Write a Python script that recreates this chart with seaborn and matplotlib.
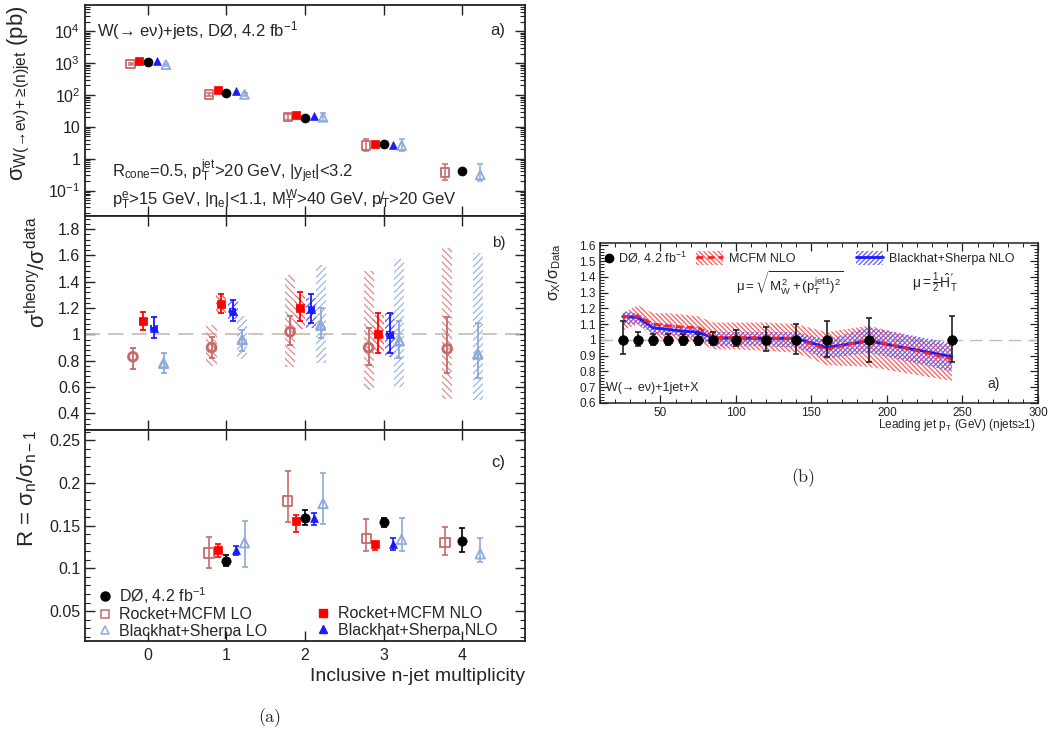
import numpy as np
import matplotlib
matplotlib.use("Agg")
import matplotlib.pyplot as plt
import seaborn as sns
from matplotlib.lines import Line2D
from matplotlib.patches import Patch
from matplotlib.ticker import FixedLocator, FixedFormatter, MultipleLocator, LogLocator, NullFormatter, NullLocator

# ---------------- data ----------------
n_jets = np.array([0, 1, 2, 3, 4])
n_nlo = np.array([0, 1, 2, 3])
n_ratio = np.array([1, 2, 3, 4])
n_ratio_nlo = np.array([1, 2, 3])

# panel a: cross sections (pb)
xs_data = np.array([1100, 118, 19.5, 2.9, 0.41])
xs_rocket_lo = np.array([930, 105, 20, 2.6, 0.37])
xs_rocket_lo_low = np.array([850, 95, 16, 1.8, 0.22])
xs_rocket_lo_high = np.array([1000, 115, 25, 4.3, 0.70])
xs_rocket_nlo = np.array([1200, 140, 23, 2.8])
xs_blackhat_nlo = np.array([1150, 130, 22, 2.7])
xs_blackhat_lo = np.array([900, 105, 20, 2.6, 0.31])
xs_blackhat_lo_low = np.array([820, 95, 15, 1.7, 0.20])
xs_blackhat_lo_high = np.array([980, 115, 27, 4.3, 0.68])

# panel b: theory / data
rb_rocket_lo = np.array([0.83, 0.90, 1.02, 0.90, 0.89])
rb_rocket_lo_low = np.array([0.74, 0.82, 0.92, 0.77, 0.71])
rb_rocket_lo_high = np.array([0.90, 0.98, 1.14, 1.05, 1.13])
rb_rocket_lo_band_low = np.array([np.nan, 0.76, 0.75, 0.58, 0.51])
rb_rocket_lo_band_high = np.array([np.nan, 1.07, 1.45, 1.48, 1.66])
rb_rocket_nlo = np.array([1.10, 1.23, 1.20, 1.00])
rb_rocket_nlo_low = np.array([1.03, 1.16, 1.10, 0.86])
rb_rocket_nlo_high = np.array([1.17, 1.31, 1.32, 1.16])
rb_rocket_nlo_band_low = np.array([np.nan, 1.16, 1.04, 0.86])
rb_rocket_nlo_band_high = np.array([np.nan, 1.31, 1.30, 1.15])
rb_blackhat_nlo = np.array([1.05, 1.18, 1.19, 1.00])
rb_blackhat_nlo_low = np.array([0.97, 1.10, 1.09, 0.86])
rb_blackhat_nlo_high = np.array([1.13, 1.26, 1.31, 1.16])
rb_blackhat_nlo_band_low = np.array([np.nan, 1.12, 1.05, 0.83])
rb_blackhat_nlo_band_high = np.array([np.nan, 1.25, 1.28, 1.16])
rb_blackhat_lo = np.array([0.78, 0.96, 1.07, 0.95, 0.85])
rb_blackhat_lo_low = np.array([0.71, 0.87, 0.97, 0.82, 0.67])
rb_blackhat_lo_high = np.array([0.86, 1.03, 1.20, 1.10, 1.09])
rb_blackhat_lo_band_low = np.array([np.nan, 0.81, 0.78, 0.60, 0.50])
rb_blackhat_lo_band_high = np.array([np.nan, 1.14, 1.53, 1.57, 1.62])

# panel c: R = sigma_n / sigma_n-1
R_data = np.array([0.109, 0.159, 0.154, 0.132])
R_data_low = np.array([0.103, 0.151, 0.149, 0.119])
R_data_high = np.array([0.116, 0.168, 0.159, 0.147])
R_rocket_lo = np.array([0.118, 0.179, 0.135, 0.130])
R_rocket_lo_low = np.array([0.101, 0.154, 0.120, 0.116])
R_rocket_lo_high = np.array([0.137, 0.214, 0.158, 0.148])
R_rocket_nlo = np.array([0.122, 0.156, 0.128])
R_rocket_nlo_low = np.array([0.113, 0.143, 0.122])
R_rocket_nlo_high = np.array([0.128, 0.163, 0.131])
R_blackhat_nlo = np.array([0.121, 0.159, 0.128])
R_blackhat_nlo_low = np.array([0.116, 0.151, 0.122])
R_blackhat_nlo_high = np.array([0.126, 0.165, 0.136])
R_blackhat_lo = np.array([0.130, 0.176, 0.134, 0.117])
R_blackhat_lo_low = np.array([0.102, 0.152, 0.120, 0.107])
R_blackhat_lo_high = np.array([0.156, 0.212, 0.159, 0.136])

# right panel: leading jet pT ratio
pt = np.array([25, 35, 45, 55, 65, 75, 85, 100, 120, 140, 160, 188, 243])
pt_data_low = np.array([0.91, 0.96, 0.97, 0.97, 0.97, 0.97, 0.97, 0.96, 0.93, 0.91, 0.89, 0.86, 0.86])
pt_data_high = np.array([1.12, 1.05, 1.04, 1.04, 1.04, 1.04, 1.05, 1.06, 1.08, 1.10, 1.12, 1.14, 1.15])
pt_mcfm = np.array([1.145, 1.152, 1.10, 1.09, 1.08, 1.08, 1.015, 1.015, 1.013, 1.008, 0.94, 1.00, 0.88])
pt_mcfm_low = np.array([1.06, 1.10, 1.02, 1.00, 0.99, 0.99, 0.94, 0.94, 0.93, 0.92, 0.84, 0.83, 0.74])
pt_mcfm_high = np.array([1.17, 1.22, 1.17, 1.17, 1.16, 1.15, 1.11, 1.11, 1.11, 1.10, 1.05, 1.09, 0.96])
pt_bh = np.array([1.148, 1.143, 1.077, 1.067, 1.055, 1.05, 1.012, 1.012, 1.01, 1.01, 0.952, 0.994, 0.894])
pt_bh_low = np.array([1.10, 1.10, 1.04, 1.03, 1.02, 1.01, 0.96, 0.96, 0.96, 0.95, 0.88, 0.92, 0.80])
pt_bh_high = np.array([1.18, 1.17, 1.11, 1.10, 1.09, 1.08, 1.05, 1.05, 1.05, 1.05, 1.00, 1.08, 0.98])

log_ticks = [0.1, 1, 10, 100, 1000, 10000]
log_tick_labels = [r"$10^{-1}$", "1", "10", r"$10^{2}$", r"$10^{3}$", r"$10^{4}$"]

# ---------------- style ----------------
sns.set_theme(style="ticks")
plt.rcParams["font.family"] = ["Liberation Sans", "DejaVu Sans"]
plt.rcParams["mathtext.fontset"] = "custom"
plt.rcParams["mathtext.rm"] = "Liberation Sans"
plt.rcParams["mathtext.it"] = "Liberation Sans"
plt.rcParams["mathtext.bf"] = "Liberation Sans:bold"
plt.rcParams["hatch.linewidth"] = 0.9
plt.rcParams["axes.unicode_minus"] = False

C_DATA = "black"
C_RLO = "#c86a6a"
C_RNLO = "#ff0000"
C_BNLO = "#1a1aff"
C_BLO = "#8ea9dc"
B_RLO = "#e08c8c"
B_RNLO = "#ff5a5a"
B_BNLO = "#5a5aff"
B_BLO = "#9fb7e6"
GRAY_DASH = "#c9b8b0"
HATCH_R = "\\\\\\\\\\"
HATCH_B = "/////"
HATCH_R2 = "\\\\\\\\\\\\\\"
HATCH_B2 = "///////"

fig = plt.figure(figsize=(10.53, 7.37), dpi=100)
W, H = 1053.0, 737.0


def axes_px(x0, y0, x1, y1):
    return fig.add_axes([x0 / W, 1 - y1 / H, (x1 - x0) / W, (y1 - y0) / H])


axA = axes_px(85, 5, 525, 216)
axB = axes_px(85, 216, 525, 430)
axC = axes_px(85, 430, 525, 641)
axR = axes_px(600, 243, 1038, 403)


def pts(ax, x, y, marker, color, s, filled=True, lw=1.3, z=5):
    if filled:
        sns.scatterplot(x=x, y=y, ax=ax, marker=marker, s=s, color=color,
                        edgecolor=color, linewidth=0.5, zorder=z, legend=False)
    else:
        sns.scatterplot(x=x, y=y, ax=ax, marker=marker, s=s, facecolor="none",
                        edgecolor=color, linewidth=lw, zorder=z, legend=False)


def eb(ax, x, y, lo, hi, color, lw=1.2, cap=2.5, xerr=None, z=4):
    ax.errorbar(x, y, yerr=[y - lo, hi - y], xerr=xerr, fmt="none", ecolor=color,
                elinewidth=lw, capsize=cap, capthick=lw, zorder=z)


def style_left(ax):
    for sp in ax.spines.values():
        sp.set_linewidth(1.3)
        sp.set_color("#222222")
    ax.set_xlim(-0.8, 4.8)
    ax.xaxis.set_major_locator(FixedLocator(list(n_jets)))
    ax.xaxis.set_minor_locator(NullLocator())
    ax.tick_params(which="both", direction="in", top=True, right=True, labelsize=11.5,
                   colors="#222222")
    ax.tick_params(which="major", length=7, width=1.0)
    ax.tick_params(which="minor", length=3.5, width=0.8)


# ---------------- panel a ----------------
off_rlo, off_rnlo, off_bnlo, off_blo = -0.22, -0.11, 0.12, 0.23
eb(axA, n_jets + off_rlo, xs_rocket_lo, xs_rocket_lo_low, xs_rocket_lo_high, C_RLO, lw=1.1, cap=2.5)
eb(axA, n_jets + off_blo, xs_blackhat_lo, xs_blackhat_lo_low, xs_blackhat_lo_high, C_BLO, lw=1.1, cap=2.5)
pts(axA, n_jets + off_rlo, xs_rocket_lo, "s", C_RLO, 36, filled=False)
pts(axA, n_nlo + off_rnlo, xs_rocket_nlo, "s", C_RNLO, 34)
pts(axA, n_jets, xs_data, "o", C_DATA, 42)
pts(axA, n_nlo + off_bnlo, xs_blackhat_nlo, "^", C_BNLO, 32)
pts(axA, n_jets + off_blo, xs_blackhat_lo, "^", C_BLO, 40, filled=False)
axA.set_yscale("log")
axA.set_ylim(10 ** -1.8, 10 ** 4.83)
style_left(axA)
axA.yaxis.set_major_locator(FixedLocator(log_ticks))
axA.yaxis.set_major_formatter(FixedFormatter(log_tick_labels))
axA.yaxis.set_minor_locator(LogLocator(base=10, subs=np.arange(2, 10), numticks=20))
axA.yaxis.set_minor_formatter(NullFormatter())
axA.tick_params(axis="x", labelbottom=False)
axA.set_xlabel("")
axA.set_ylabel(r"$\sigma_{W(\!\rightarrow\! e\nu)\!+\!\geq\!(n)jet}$ (pb)", fontsize=16, loc="top")
axA.yaxis.set_label_coords(-0.12, 1.0)
axA.text(0.027, 0.88, "W(→ eν)+jets, DØ, 4.2 fb$^{-1}$",
         transform=axA.transAxes, fontsize=12, va="center", ha="left")
axA.text(0.955, 0.88, "a)", transform=axA.transAxes, fontsize=12, va="center", ha="right")
axA.text(0.061, 0.208, r"R$_{cone}$=0.5, p$_{T}^{jet}$>20 GeV, |y$_{jet}$|<3.2",
         transform=axA.transAxes, fontsize=12, va="center", ha="left")
axA.text(0.061, 0.076,
         r"p$_{T}^{e}$>15 GeV, |$\eta_{e}$|<1.1, M$_{T}^{W}$>40 GeV, p" + "\u0338" + r"$_{T}$>20 GeV",
         transform=axA.transAxes, fontsize=12, va="center", ha="left")

# ---------------- panel b ----------------
o_rlo, o_rnlo, o_bnlo, o_blo = -0.19, -0.065, 0.08, 0.20
bw = 0.13
axB.axhline(1.0, color=GRAY_DASH, lw=1.2, ls=(0, (9, 5)), zorder=1)
axB.bar(n_jets + o_rlo, rb_rocket_lo_band_high - rb_rocket_lo_band_low, bottom=rb_rocket_lo_band_low,
        width=bw, fill=False, hatch=HATCH_R, edgecolor=B_RLO, linewidth=0, zorder=2)
axB.bar(n_nlo + o_rnlo, rb_rocket_nlo_band_high - rb_rocket_nlo_band_low, bottom=rb_rocket_nlo_band_low,
        width=bw, fill=False, hatch=HATCH_R, edgecolor=B_RNLO, linewidth=0, zorder=2)
axB.bar(n_nlo + o_bnlo, rb_blackhat_nlo_band_high - rb_blackhat_nlo_band_low, bottom=rb_blackhat_nlo_band_low,
        width=bw, fill=False, hatch=HATCH_B, edgecolor=B_BNLO, linewidth=0, zorder=2)
axB.bar(n_jets + o_blo, rb_blackhat_lo_band_high - rb_blackhat_lo_band_low, bottom=rb_blackhat_lo_band_low,
        width=bw, fill=False, hatch=HATCH_B, edgecolor=B_BLO, linewidth=0, zorder=2)
eb(axB, n_jets + o_rlo, rb_rocket_lo, rb_rocket_lo_low, rb_rocket_lo_high, C_RLO, lw=1.3, cap=2.5)
eb(axB, n_nlo + o_rnlo, rb_rocket_nlo, rb_rocket_nlo_low, rb_rocket_nlo_high, C_RNLO, lw=1.3, cap=2.5, xerr=0.035)
eb(axB, n_nlo + o_bnlo, rb_blackhat_nlo, rb_blackhat_nlo_low, rb_blackhat_nlo_high, C_BNLO, lw=1.3, cap=2.5, xerr=0.035)
eb(axB, n_jets + o_blo, rb_blackhat_lo, rb_blackhat_lo_low, rb_blackhat_lo_high, C_BLO, lw=1.3, cap=2.5)
pts(axB, n_jets + o_rlo, rb_rocket_lo, "o", C_RLO, 40, filled=False, lw=2.0)
pts(axB, n_nlo + o_rnlo, rb_rocket_nlo, "s", C_RNLO, 36)
pts(axB, n_nlo + o_bnlo, rb_blackhat_nlo, "^", C_BNLO, 34)
pts(axB, n_jets + o_blo, rb_blackhat_lo, "^", C_BLO, 40, filled=False, lw=1.8)
axB.set_ylim(0.273, 1.90)
style_left(axB)
axB.yaxis.set_major_locator(FixedLocator([0.4, 0.6, 0.8, 1.0, 1.2, 1.4, 1.6, 1.8]))
axB.yaxis.set_major_formatter(FixedFormatter(["0.4", "0.6", "0.8", "1", "1.2", "1.4", "1.6", "1.8"]))
axB.yaxis.set_minor_locator(MultipleLocator(0.04))
axB.tick_params(axis="x", labelbottom=False)
axB.set_xlabel("")
axB.set_ylabel(r"$\sigma^{theory}/\sigma^{data}$", fontsize=16, loc="top")
axB.yaxis.set_label_coords(-0.08, 1.0)
axB.text(0.955, 0.874, "b)", transform=axB.transAxes, fontsize=11, va="center", ha="right")

# ---------------- panel c ----------------
eb(axC, n_ratio + off_rlo, R_rocket_lo, R_rocket_lo_low, R_rocket_lo_high, C_RLO, lw=1.2, cap=2.5)
eb(axC, n_ratio_nlo + off_rnlo, R_rocket_nlo, R_rocket_nlo_low, R_rocket_nlo_high, C_RNLO, lw=1.2, cap=2.5)
eb(axC, n_ratio, R_data, R_data_low, R_data_high, C_DATA, lw=1.2, cap=2.5)
eb(axC, n_ratio_nlo + off_bnlo, R_blackhat_nlo, R_blackhat_nlo_low, R_blackhat_nlo_high, C_BNLO, lw=1.2, cap=2.5)
eb(axC, n_ratio + off_blo, R_blackhat_lo, R_blackhat_lo_low, R_blackhat_lo_high, C_BLO, lw=1.2, cap=2.5)
pts(axC, n_ratio + off_rlo, R_rocket_lo, "s", C_RLO, 45, filled=False)
pts(axC, n_ratio_nlo + off_rnlo, R_rocket_nlo, "s", C_RNLO, 36)
pts(axC, n_ratio, R_data, "o", C_DATA, 45)
pts(axC, n_ratio_nlo + off_bnlo, R_blackhat_nlo, "^", C_BNLO, 32)
pts(axC, n_ratio + off_blo, R_blackhat_lo, "^", C_BLO, 45, filled=False)
axC.set_ylim(0.015, 0.262)
style_left(axC)
axC.yaxis.set_major_locator(FixedLocator([0.05, 0.1, 0.15, 0.2, 0.25]))
axC.yaxis.set_major_formatter(FixedFormatter(["0.05", "0.1", "0.15", "0.2", "0.25"]))
axC.yaxis.set_minor_locator(MultipleLocator(0.01))
axC.set_ylabel(r"R = $\sigma_{n}/\sigma_{n-1}$", fontsize=16, loc="top")
axC.yaxis.set_label_coords(-0.104, 1.0)
axC.set_xlabel("Inclusive n-jet multiplicity", fontsize=14, loc="right")
axC.xaxis.set_label_coords(1.0, -0.13)
axC.tick_params(axis="x", pad=5)
axC.text(0.955, 0.848, "c)", transform=axC.transAxes, fontsize=12, va="center", ha="right")

leg_handles = [
    Line2D([], [], marker="o", color=C_DATA, ls="none", markersize=6.5),
    Line2D([], [], marker="s", color=C_RLO, mfc="none", ls="none", markersize=5.5, mew=1.1),
    Line2D([], [], marker="^", color=C_BLO, mfc="none", ls="none", markersize=5.5, mew=1.1),
    Line2D([], [], ls="none"),
    Line2D([], [], marker="s", color=C_RNLO, ls="none", markersize=5.5),
    Line2D([], [], marker="^", color=C_BNLO, ls="none", markersize=5.5),
]
leg_labels = ["DØ, 4.2 fb$^{-1}$", "Rocket+MCFM LO", "Blackhat+Sherpa LO", "",
              "Rocket+MCFM NLO", "Blackhat+Sherpa NLO"]
axC.legend(leg_handles, leg_labels, ncol=2, loc="lower left", bbox_to_anchor=(0.02, -0.005),
           frameon=False, fontsize=11.5, handlelength=1.0, handletextpad=0.4, labelspacing=0.1,
           columnspacing=3.0, borderaxespad=0, borderpad=0.2)

# ---------------- right panel ----------------
axR.axhline(1.0, color=GRAY_DASH, lw=1.0, ls=(0, (9, 5)), zorder=1)
axR.fill_between(pt, pt_mcfm_low, pt_mcfm_high, facecolor="none", edgecolor="#ff5a5a",
                 hatch=HATCH_R2, linewidth=0, zorder=2)
axR.fill_between(pt, pt_bh_low, pt_bh_high, facecolor="none", edgecolor="#5a5aff",
                 hatch=HATCH_B2, linewidth=0, zorder=2)
sns.lineplot(x=pt, y=pt_bh, ax=axR, color="#1a1aff", lw=2.0, zorder=3)
sns.lineplot(x=pt, y=pt_mcfm, ax=axR, color="#ff2020", lw=2.0, ls=(0, (2.5, 1.5)), zorder=3)
axR.errorbar(pt, np.ones_like(pt, dtype=float), yerr=[1 - pt_data_low, pt_data_high - 1], fmt="none",
             ecolor="#222222", elinewidth=1.2, capsize=2.5, capthick=1.2, zorder=4)
pts(axR, pt, np.ones_like(pt, dtype=float), "o", "black", 48, z=5)
axR.set_xlim(10, 300)
axR.set_ylim(0.6, 1.615)
for sp in axR.spines.values():
    sp.set_linewidth(1.1)
    sp.set_color("#222222")
axR.xaxis.set_major_locator(MultipleLocator(50))
axR.xaxis.set_minor_locator(MultipleLocator(10))
axR.yaxis.set_major_locator(FixedLocator([0.5, 0.6, 0.7, 0.8, 0.9, 1.0, 1.1, 1.2, 1.3, 1.4, 1.5, 1.6, 1.7]))
axR.yaxis.set_major_formatter(FixedFormatter(["", "0.6", "0.7", "0.8", "0.9", "1", "1.1", "1.2",
                                              "1.3", "1.4", "1.5", "1.6", ""]))
axR.yaxis.set_minor_locator(MultipleLocator(0.02))
axR.tick_params(which="both", direction="in", top=True, right=True, labelsize=8.5, colors="#222222")
axR.tick_params(which="major", length=6, width=0.9, pad=3)
axR.tick_params(which="minor", length=3, width=0.7)
axR.set_ylabel(r"$\sigma_{X}/\sigma_{Data}$", fontsize=11.5, loc="top")
axR.yaxis.set_label_coords(-0.085, 1.0)
axR.set_xlabel(r"Leading jet p$_{T}$ (GeV) (njets≥1)", fontsize=8.5, loc="right")
axR.xaxis.set_label_coords(0.995, -0.09)

h_data = Line2D([], [], marker="o", color="black", ls="none", markersize=6)
h_mcfm = (Patch(facecolor="none", edgecolor="#ff5a5a", hatch=HATCH_R2, linewidth=0),
          Line2D([], [], color="#ff2020", lw=2.0, ls=(0, (2.5, 1.5))))
h_bh = (Patch(facecolor="none", edgecolor="#5a5aff", hatch=HATCH_B2, linewidth=0),
        Line2D([], [], color="#1a1aff", lw=2.0))
lg1 = axR.legend([h_data], ["DØ, 4.2 fb$^{-1}$"], loc="center left",
                 bbox_to_anchor=(0.0, 0.905), frameon=False, fontsize=9, handlelength=0.8,
                 handletextpad=0.3, borderaxespad=0, borderpad=0.3)
axR.add_artist(lg1)
lg2 = axR.legend([h_mcfm], ["MCFM NLO"], loc="center left", bbox_to_anchor=(0.21, 0.905),
                 frameon=False, fontsize=9, handlelength=2.2, handleheight=1.4,
                 handletextpad=0.5, borderaxespad=0, borderpad=0.3)
axR.add_artist(lg2)
axR.legend([h_bh], ["Blackhat+Sherpa NLO"], loc="center left", bbox_to_anchor=(0.575, 0.905),
           frameon=False, fontsize=9, handlelength=2.2, handleheight=1.4,
           handletextpad=0.5, borderaxespad=0, borderpad=0.3)
axR.text(0.434, 0.75, r"$\mu = \sqrt{M_{W}^{2}+(p_{T}^{jet1})^{2}}$", transform=axR.transAxes,
         fontsize=9.5, ha="center", va="center")
axR.text(0.765, 0.75, r"$\mu = \frac{1}{2}\hat{H}_{T}'$", transform=axR.transAxes,
         fontsize=10, ha="center", va="center")
axR.text(0.014, 0.094, "W(→ eν)+1jet+X", transform=axR.transAxes,
         fontsize=9, ha="left", va="center")
axR.text(0.913, 0.12, "a)", transform=axR.transAxes, fontsize=10, ha="right", va="center")

fig.text(270 / W, 1 - 718 / H, "(a)", fontsize=13, family="cmr10", ha="center", va="center")
fig.text(803 / W, 1 - 478 / H, "(b)", fontsize=13, family="cmr10", ha="center", va="center")

fig.savefig("out.png", dpi=100, facecolor="white")
